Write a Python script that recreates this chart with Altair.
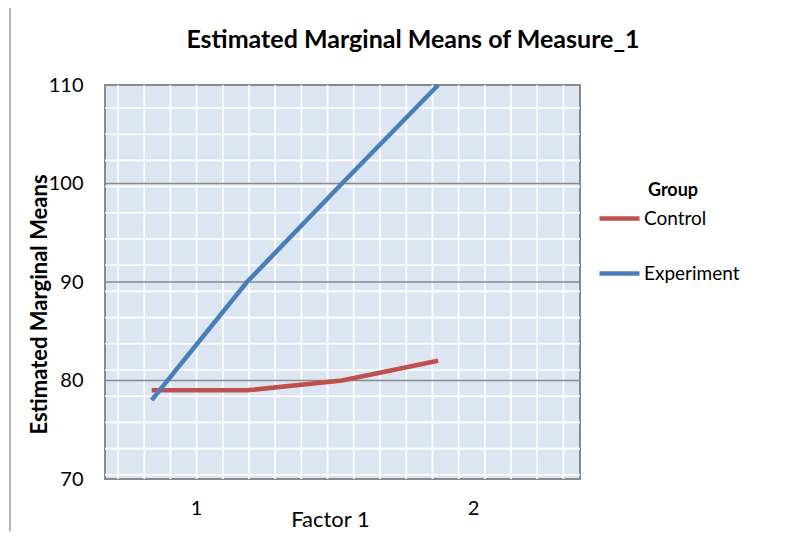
import altair as alt
import pandas as pd

# ---- data ----
factor = [0.84, 1.184, 1.527, 1.874]
control = [79, 79, 80, 82]
experiment = [78, 90, 100, 110]
groups = ["Control", "Experiment"]
x_ticks = [1, 2]
y_ticks = [70, 80, 90, 100, 110]
major_grid = [80, 90, 100]
chart_title = "Estimated Marginal Means of Measure_1"

X_DOMAIN = [0.6715, 2.386]
Y_DOMAIN = [70, 110]
W, H = 475, 394
FONT = "Lato"

df = pd.DataFrame({
    "Factor 1": factor * 2,
    "Mean": control + experiment,
    "Group": [groups[0]] * len(control) + [groups[1]] * len(experiment),
})

# Background texture grid of the Excel plot area (style only)
vx = [X_DOMAIN[0] + (13 + 26.2 * k) / W * (X_DOMAIN[1] - X_DOMAIN[0]) for k in range(18)]
hy = [Y_DOMAIN[1] - (23 + 26.2 * k) / H * (Y_DOMAIN[1] - Y_DOMAIN[0]) for k in range(15)]

xscale = alt.Scale(domain=X_DOMAIN, nice=False, zero=False)
yscale = alt.Scale(domain=Y_DOMAIN, nice=False, zero=False)

x_axis = alt.Axis(values=x_ticks, title="Factor 1", grid=False, domain=False, ticks=False,
                  labelFontSize=20, labelPadding=19, labelColor="#000", labelFont=FONT,
                  titleFont=FONT, titleFontSize=22, titleFontWeight="normal", titleColor="#000",
                  titleX=225, titleY=47, titleBaseline="alphabetic", titleAnchor="start", titleAlign="center")
y_axis = alt.Axis(values=y_ticks, title="Estimated Marginal Means", grid=False, domain=False, ticks=False,
                  labelFontSize=20, labelPadding=22, labelColor="#000", labelFont=FONT,
                  labelBaseline="middle",
                  titleFont=FONT, titleFontSize=22, titleFontWeight="bold", titleColor="#000",
                  titleX=-66, titleY=219, titleAngle=270, titleAlign="center", titleBaseline="middle")

vgrid = alt.Chart(pd.DataFrame({"Factor 1": vx})).mark_rule(color="white", strokeWidth=1.6).encode(
    x=alt.X("Factor 1:Q", scale=xscale, axis=x_axis))
hgrid = alt.Chart(pd.DataFrame({"Mean": hy})).mark_rule(color="white", strokeWidth=1.6).encode(
    y=alt.Y("Mean:Q", scale=yscale, axis=y_axis))
hmajor = alt.Chart(pd.DataFrame({"Mean": major_grid})).mark_rule(color="#8a8a8a", strokeWidth=1.6).encode(
    y=alt.Y("Mean:Q", scale=yscale, axis=y_axis))

lines = alt.Chart(df).mark_line(strokeWidth=4.5).encode(
    x=alt.X("Factor 1:Q", scale=xscale, axis=x_axis),
    y=alt.Y("Mean:Q", scale=yscale, axis=y_axis),
    color=alt.Color("Group:N", scale=alt.Scale(domain=groups, range=["#c0504d", "#4a7ebb"]),
                    legend=alt.Legend(orient="none", legendX=502, legendY=97, title="Group",
                                      titleFont=FONT, titleFontSize=18, titleFontWeight="bold",
                                      titleColor="#000", titleAnchor="middle", titlePadding=6,
                                      labelFont=FONT, labelFontSize=19, labelColor="#000",
                                      symbolType="M-2,0H2", symbolSize=400, symbolStrokeWidth=4.5,
                                      labelOffset=12, rowPadding=32, padding=0)),
)

title_mark = alt.Chart(pd.DataFrame({"t": [chart_title]})).mark_text(
    font=FONT, fontSize=25, fontWeight="bold", color="#000", align="center", baseline="alphabetic"
).encode(text="t:N", x=alt.value(308), y=alt.value(-37))

frame_left = alt.Chart(pd.DataFrame({"a": [0]})).mark_rule(color="#b5b5b5", strokeWidth=2).encode(
    x=alt.value(-95), y=alt.value(-82), y2=alt.value(448))
frame_top = alt.Chart(pd.DataFrame({"a": [0]})).mark_rule(color="#b5b5b5", strokeWidth=2).encode(
    x=alt.value(-95), x2=alt.value(700), y=alt.value(-81))

chart = alt.layer(vgrid, hgrid, hmajor, lines, title_mark, frame_left, frame_top).properties(
    width=W, height=H,
    padding={"left": 97, "top": 77, "right": 210, "bottom": 52},
    autosize=alt.AutoSizeParams(type="none"),
    background="white",
).configure_view(fill="#dce6f2", stroke="#8a8a8a", strokeWidth=2)

chart.save("out.html", embed_options={"renderer": "svg", "actions": False})
